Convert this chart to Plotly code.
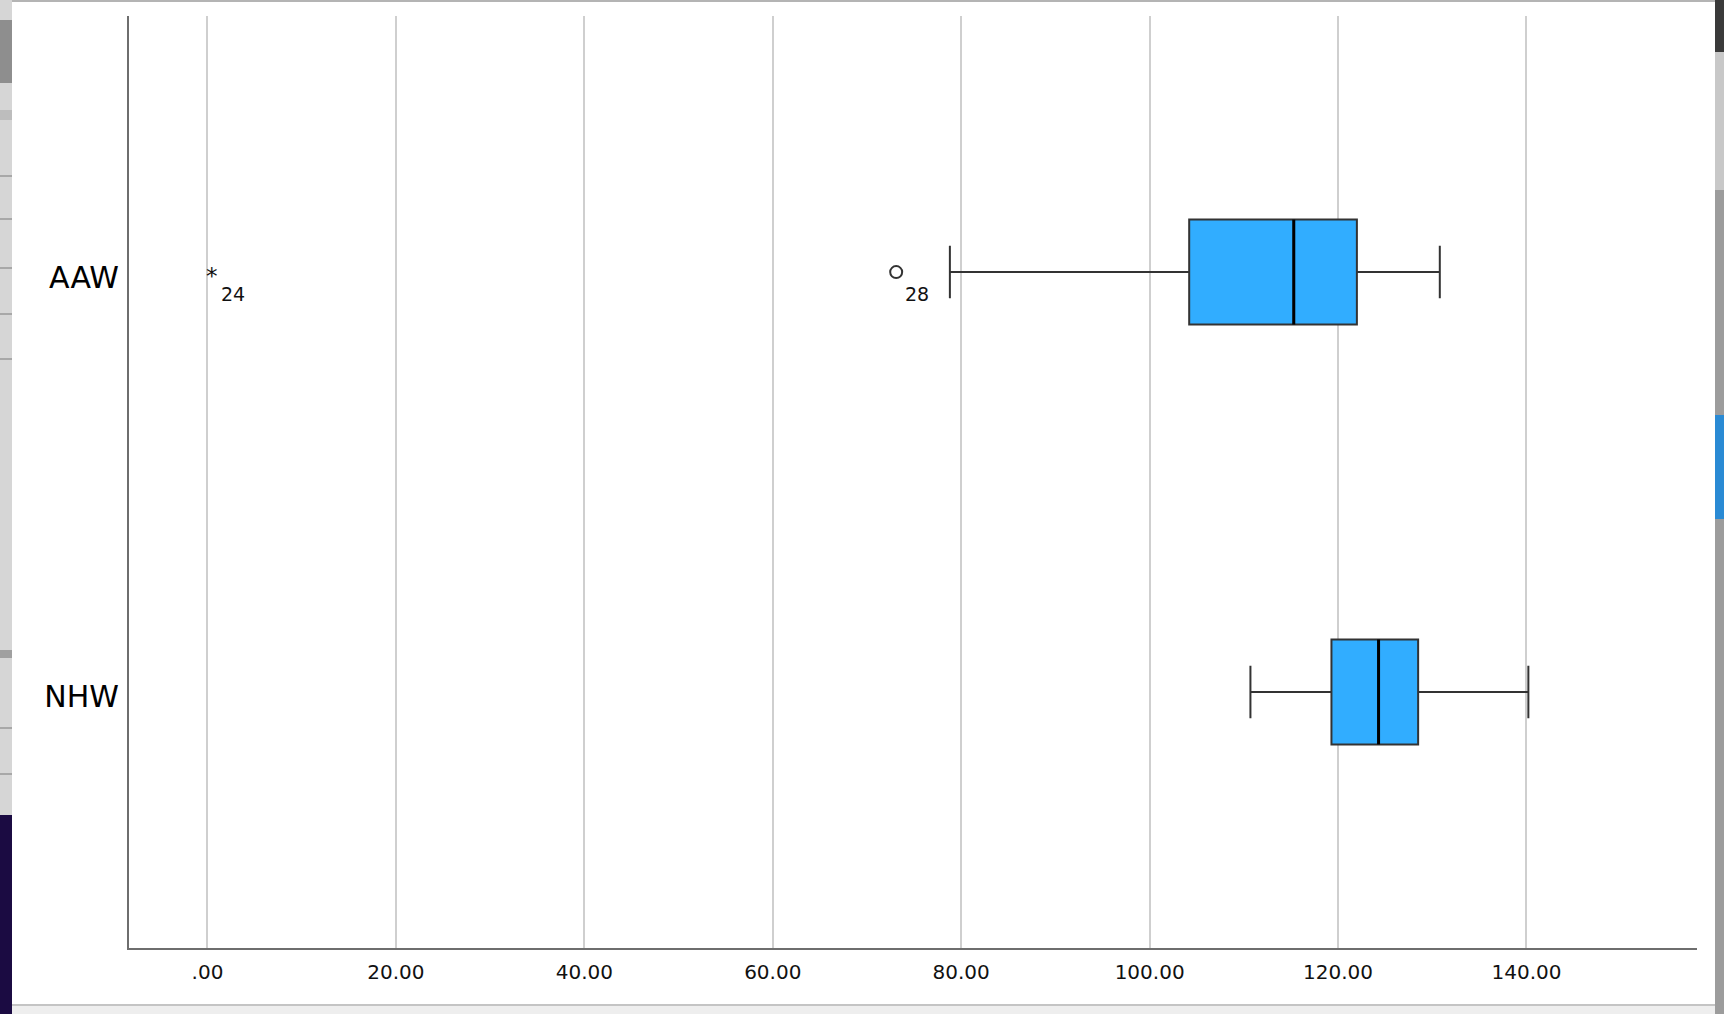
import plotly.graph_objects as go

# Group labels and their positions on the value axis (top group first)
groups = ["AAW", "NHW"]
group_pos = [1, 0]

# Five-number summaries per group
lower_whisker = [78.8, 110.7]
q1 = [104.2, 119.3]
median = [115.3, 124.3]
q3 = [122.0, 128.5]
upper_whisker = [130.8, 140.2]

# Flagged cases: (group index, value, case id, kind)
outlier_group = [0, 0]
outlier_value = [0.5, 73.1]
outlier_case = ["24", "28"]
outlier_kind = ["extreme", "outlier"]

# Axis ticks
x_ticks = [0, 20, 40, 60, 80, 100, 120, 140]
x_ticktext = [".00", "20.00", "40.00", "60.00", "80.00", "100.00", "120.00", "140.00"]

BOX_WIDTH = 0.25
BOX_FILL = "#31adff"
EDGE = "#333333"

fig = go.Figure()

for i, g in enumerate(groups):
    fig.add_trace(go.Box(
        y=[group_pos[i]],
        q1=[q1[i]], median=[median[i]], q3=[q3[i]],
        lowerfence=[lower_whisker[i]], upperfence=[upper_whisker[i]],
        orientation="h",
        width=BOX_WIDTH,
        whiskerwidth=0.5,
        fillcolor=BOX_FILL,
        line=dict(color=EDGE, width=2),
        boxpoints=False,
        name=g,
        showlegend=False,
        hoverinfo="skip",
    ))
    # heavier black median stroke
    fig.add_trace(go.Scatter(
        x=[median[i], median[i]],
        y=[group_pos[i] - BOX_WIDTH / 2, group_pos[i] + BOX_WIDTH / 2],
        mode="lines",
        line=dict(color="#000000", width=3),
        showlegend=False,
        hoverinfo="skip",
    ))

# Outlier markers: open circle for outliers, asterisk for extremes
for gi, v, cid, kind in zip(outlier_group, outlier_value, outlier_case, outlier_kind):
    y = group_pos[gi]
    if kind == "outlier":
        fig.add_trace(go.Scatter(
            x=[v], y=[y], mode="markers",
            marker=dict(symbol="circle-open", size=12, color="#333333",
                        line=dict(width=2, color="#333333")),
            showlegend=False, hoverinfo="skip",
        ))
    else:
        fig.add_annotation(
            x=v, y=y, text="*", showarrow=False,
            font=dict(family="DejaVu Sans", size=23, color="#111111"),
            yshift=-4,
        )
    fig.add_annotation(
        x=v, y=y, text=cid, showarrow=False,
        font=dict(family="DejaVu Sans", size=19, color="#111111"),
        xshift=21, yshift=-22,
    )

# Plot-area geometry in pixels, used to place the surrounding frame strips
L, T, W, H = 129, 16, 1568, 932
FIG_W, FIG_H = 1724, 1014


def fx(px):
    return (px - L) / W


def fy(py):
    return 1 - (py - T) / H


def strip(x0, y0, x1, y1, color):
    return dict(type="rect", xref="paper", yref="paper",
                x0=fx(x0), x1=fx(x1), y0=fy(y1), y1=fy(y0),
                fillcolor=color, line=dict(width=0), layer="above")


shapes = [
    # top border
    strip(0, 0, FIG_W, 2, "#b4b4b4"),
    # left side panel
    strip(0, 0, 12, 815, "#d6d6d6"),
    strip(0, 20, 12, 83, "#8e8e8e"),
    strip(0, 110, 12, 120, "#bdbdbd"),
    strip(0, 175, 12, 177, "#a8a8a8"),
    strip(0, 218, 12, 220, "#a8a8a8"),
    strip(0, 267, 12, 269, "#a8a8a8"),
    strip(0, 313, 12, 315, "#a8a8a8"),
    strip(0, 358, 12, 360, "#a8a8a8"),
    strip(0, 650, 12, 658, "#a0a0a0"),
    strip(0, 727, 12, 729, "#a8a8a8"),
    strip(0, 773, 12, 775, "#a8a8a8"),
    strip(0, 815, 12, FIG_H, "#1b0b42"),
    # right side panel
    strip(1715, 0, FIG_W, 52, "#3a3a3a"),
    strip(1715, 52, FIG_W, 190, "#c8c8c8"),
    strip(1715, 190, FIG_W, FIG_H, "#9c9c9c"),
    strip(1715, 415, FIG_W, 519, "#2a8ad4"),
    # bottom border
    strip(12, 1004, 1715, 1006, "#c4c4c4"),
    strip(12, 1006, 1715, FIG_H, "#eeeeee"),
]

fig.update_layout(
    width=FIG_W, height=FIG_H,
    margin=dict(l=L, r=FIG_W - L - W, t=T, b=FIG_H - T - H, pad=0),
    paper_bgcolor="white",
    plot_bgcolor="white",
    showlegend=False,
    shapes=shapes,
    xaxis=dict(
        range=[-8.33, 158.1],
        tickmode="array", tickvals=x_ticks, ticktext=x_ticktext,
        showgrid=True, gridcolor="#cfcfcf", gridwidth=2,
        zeroline=True, zerolinecolor="#cfcfcf", zerolinewidth=2,
        showline=True, linecolor="#6e6e6e", linewidth=2,
        ticks="", ticklabelstandoff=5,
        tickfont=dict(family="DejaVu Sans", size=20, color="#111111"),
        fixedrange=True,
    ),
    yaxis=dict(
        range=[-0.61, 1.61],
        tickmode="array", tickvals=group_pos, ticktext=groups,
        showgrid=False, zeroline=False,
        showline=True, linecolor="#6e6e6e", linewidth=2,
        ticks="", ticklabelstandoff=2, ticklabelshift=5,
        tickfont=dict(family="DejaVu Sans", size=30, color="#000000"),
        fixedrange=True,
    ),
)

fig.write_html("out.html", config={"displayModeBar": False})
